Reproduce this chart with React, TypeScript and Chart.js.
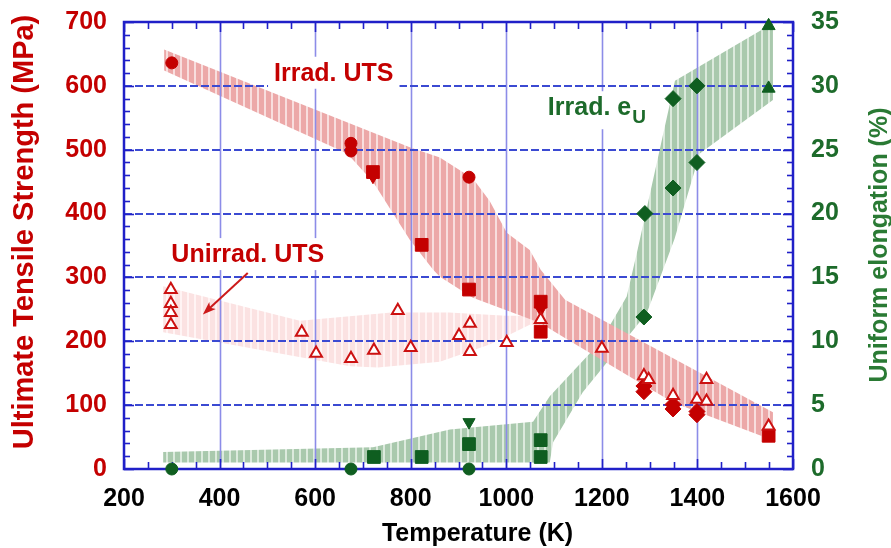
import { useEffect, useRef } from "react";
import { Chart, registerables } from "chart.js";

Chart.register(...registerables);

const FONT = "'Liberation Sans', Arial, Helvetica, sans-serif";
const RED = "#c40000";
const GREEN = "#0f5e20";
const GREEN_TEXT = "#1d6b2b";

// Axis ticks
const tempTicks = [200, 400, 600, 800, 1000, 1200, 1400, 1600];
const utsTicks = [0, 100, 200, 300, 400, 500, 600, 700];
const elongTicks = [0, 5, 10, 15, 20, 25, 30, 35];

// Irradiated UTS (MPa) vs temperature (K)
const irrUtsCircleT = [300, 675, 675, 922];
const irrUtsCircleV = [636, 510, 498, 457];
const irrUtsSquareT = [721, 823, 922, 1072, 1072, 1549];
const irrUtsSquareV = [465, 351, 281, 262, 215, 52];
const irrUtsDownT = [721, 1072];
const irrUtsDownV = [457, 249];
const irrUtsDiamondT = [1288, 1288, 1349, 1349, 1399, 1399];
const irrUtsDiamondV = [130, 121, 101, 94, 90, 85];

// Unirradiated UTS (MPa)
const unirrUtsT = [298, 298, 298, 298, 572, 602, 675, 723, 773, 800, 901, 924, 924, 1001, 1072, 1200, 1288, 1298, 1349, 1399, 1419, 1419, 1549];
const unirrUtsV = [281, 259, 245, 226, 214, 181, 173, 186, 248, 190, 209, 228, 184, 198, 234, 189, 146, 140, 115, 109, 140, 106, 67];

// Irradiated uniform elongation (%)
const elongCircleT = [300, 675, 922];
const elongCircleV = [0, 0, 0];
const elongSquareT = [723, 823, 922, 1072, 1072];
const elongSquareV = [0.94, 0.94, 1.95, 2.26, 0.94];
const elongDownT = [922];
const elongDownV = [3.67];
const elongDiamondT = [1288, 1290, 1349, 1349, 1399, 1399];
const elongDiamondV = [11.9, 20.0, 22.0, 29.0, 24.0, 30.0];
const elongTriT = [1549, 1549];
const elongTriV = [34.7, 29.8];

// Scatter bands, outlined as closed polygons
const irrUtsBandT = [284, 798, 861, 930, 965, 1001, 1049, 1072, 1123, 1558, 1558, 1349, 1127, 1070, 930, 861, 847, 798, 721, 667, 284];
const irrUtsBandV = [657, 504, 488, 455, 420, 370, 343, 312, 265, 89, 45, 104, 203, 229, 268, 301, 312, 359, 450, 494, 624];
const unirrUtsBandT = [282, 568, 637, 760, 880, 1000, 1070, 1070, 1049, 965, 861, 731, 673, 282];
const unirrUtsBandV = [286, 232, 237, 245, 245, 240, 240, 225, 226, 195, 168, 159, 161, 214];
const elongBandT = [282, 721, 882, 1056, 1091, 1196, 1252, 1275, 1353, 1558, 1558, 1405, 1352, 1294, 1160, 1098, 1091, 282];
const elongBandV = [1.33, 1.7, 3.1, 3.7, 5.7, 9.9, 13.5, 17.2, 30.4, 34.9, 28.9, 24.7, 18.0, 12.2, 6.0, 2.1, 0.5, 0.5];

// Annotation anchors (temperature, MPa)
const irrUtsNote = { t: 639, v: 608, text: "Irrad. UTS" };
const unirrUtsNote = { t: 459, v: 324, text: "Unirrad. UTS" };
const elongNote = { t: 1087, v: 554, text: "Irrad. e", sub: "U" };
const arrowFrom = { t: 459, v: 307 };
const arrowTo = { t: 365, v: 242 };

const zip = (xs: number[], ys: number[]) => xs.map((x, i) => ({ x, y: ys[i] }));

function stripes(base: string, gap: string): CanvasPattern | string {
  const c = document.createElement("canvas");
  c.width = 7;
  c.height = 4;
  const g = c.getContext("2d");
  if (!g) return base;
  g.fillStyle = base;
  g.fillRect(0, 0, 7, 4);
  g.fillStyle = gap;
  g.fillRect(5, 0, 2, 4);
  return g.createPattern(c, "repeat") || base;
}

const decor = {
  id: "decor",
  beforeDatasetsDraw(chart: any) {
    const { ctx, chartArea: a, scales } = chart;
    const x = scales.x;
    const y = scales.y;
    const y2 = scales.y2;
    const seg = (x1: number, y1: number, x2: number, y2p: number) => {
      ctx.beginPath();
      ctx.moveTo(x1, y1);
      ctx.lineTo(x2, y2p);
      ctx.stroke();
    };
    ctx.save();

    // grid: solid verticals, dashed horizontals
    ctx.strokeStyle = "#8c8ce8";
    ctx.lineWidth = 1.6;
    tempTicks.slice(1, -1).forEach((t) => {
      const p = Math.round(x.getPixelForValue(t)) + 0.5;
      seg(p, a.top, p, a.bottom);
    });
    ctx.strokeStyle = "#3b4ad2";
    ctx.lineWidth = 2;
    ctx.setLineDash([8, 3]);
    utsTicks.slice(1, -1).forEach((v) => {
      const p = Math.round(y.getPixelForValue(v));
      seg(a.left, p, a.right, p);
    });
    ctx.setLineDash([]);

    // notes on white backing
    const note = (n: any, color: string) => {
      ctx.font = `bold 25px ${FONT}`;
      const w = ctx.measureText(n.text).width;
      let sw = 0;
      if (n.sub) {
        ctx.font = `bold 19px ${FONT}`;
        sw = ctx.measureText(n.sub).width + 1;
      }
      const cx = x.getPixelForValue(n.t);
      const by = y.getPixelForValue(n.v);
      const left = n.sub ? cx : cx - w / 2;
      ctx.fillStyle = "#ffffff";
      ctx.fillRect(left - 6, by - 24, w + sw + 12, n.sub ? 38 : 32);
      ctx.fillStyle = color;
      ctx.textBaseline = "alphabetic";
      ctx.textAlign = "left";
      ctx.font = `bold 25px ${FONT}`;
      ctx.fillText(n.text, left, by);
      if (n.sub) {
        ctx.font = `bold 19px ${FONT}`;
        ctx.fillText(n.sub, left + w + 1, by + 8);
      }
    };
    note(irrUtsNote, RED);
    note(unirrUtsNote, RED);
    note(elongNote, GREEN_TEXT);

    // arrow pointing at the unirradiated band
    const ax1 = x.getPixelForValue(arrowFrom.t);
    const ay1 = y.getPixelForValue(arrowFrom.v);
    const ax2 = x.getPixelForValue(arrowTo.t);
    const ay2 = y.getPixelForValue(arrowTo.v);
    const ang = Math.atan2(ay2 - ay1, ax2 - ax1);
    ctx.strokeStyle = "#cc1a1a";
    ctx.fillStyle = "#cc1a1a";
    ctx.lineWidth = 2;
    seg(ax1, ay1, ax2 - 8 * Math.cos(ang), ay2 - 8 * Math.sin(ang));
    ctx.beginPath();
    ctx.moveTo(ax2, ay2);
    ctx.lineTo(ax2 - 14 * Math.cos(ang - 0.35), ay2 - 14 * Math.sin(ang - 0.35));
    ctx.lineTo(ax2 - 10 * Math.cos(ang), ay2 - 10 * Math.sin(ang));
    ctx.lineTo(ax2 - 14 * Math.cos(ang + 0.35), ay2 - 14 * Math.sin(ang + 0.35));
    ctx.closePath();
    ctx.fill();

    // inward tick marks
    ctx.strokeStyle = "#2020c8";
    ctx.lineWidth = 1.6;
    for (let v = 0; v <= 700; v += 20) {
      const p = Math.round(y.getPixelForValue(v)) + 0.5;
      seg(a.left, p, a.left + (v % 100 === 0 ? 10 : 6), p);
    }
    for (let v = 0; v <= 35; v += 1) {
      const p = Math.round(y2.getPixelForValue(v)) + 0.5;
      seg(a.right, p, a.right - (v % 5 === 0 ? 10 : 6), p);
    }
    for (let t = 200; t <= 1600; t += 50) {
      const p = Math.round(x.getPixelForValue(t)) + 0.5;
      const len = t % 200 === 0 ? 10 : 7;
      seg(p, a.bottom, p, a.bottom - len);
      seg(p, a.top, p, a.top + len);
    }

    // frame
    ctx.lineWidth = 2.5;
    ctx.strokeRect(a.left, a.top, a.right - a.left, a.bottom - a.top);
    ctx.restore();
  },
  afterDraw(chart: any) {
    const { ctx, chartArea: a } = chart;
    ctx.save();
    ctx.textBaseline = "alphabetic";
    ctx.textAlign = "center";

    ctx.fillStyle = RED;
    ctx.font = `bold 29px ${FONT}`;
    ctx.save();
    ctx.translate(33, 232);
    ctx.rotate(-Math.PI / 2);
    ctx.fillText("Ultimate Tensile Strength (MPa)", 0, 0);
    ctx.restore();

    ctx.fillStyle = "#2a7a34";
    ctx.font = `bold 25px ${FONT}`;
    ctx.save();
    ctx.translate(887, 245);
    ctx.rotate(-Math.PI / 2);
    ctx.fillText("Uniform elongation (%)", 0, 0);
    ctx.restore();

    ctx.fillStyle = "#000000";
    ctx.font = `bold 25px ${FONT}`;
    ctx.fillText("Temperature (K)", (a.left + a.right) / 2 + 19, 541);
    ctx.restore();
  },
};

// fixed box sizes so the plot area lands at the same place every time
const fixWidth = (w: number) => (s: any) => {
  s.width = w;
  s.paddingTop = 0;
  s.paddingBottom = 0;
};
const fixHeight = (h: number) => (s: any) => {
  s.height = h;
  s.paddingLeft = 0;
  s.paddingRight = 0;
};

export default function App() {
  const ref = useRef<HTMLCanvasElement>(null);

  useEffect(() => {
    if (!ref.current) return;
    const band = (t: number[], v: number[], fillStyle: any, axis: string) => ({
      type: "line" as const,
      data: zip(t, v),
      yAxisID: axis,
      fill: "shape",
      backgroundColor: fillStyle,
      borderColor: "transparent",
      borderWidth: 0,
      pointRadius: 0,
      tension: 0,
      order: 10,
    });
    const mark = (
      t: number[],
      v: number[],
      style: string,
      r: number,
      color: string,
      axis: string,
      extra: any = {}
    ) => ({
      type: "scatter" as const,
      data: zip(t, v),
      yAxisID: axis,
      pointStyle: style,
      pointRadius: r,
      backgroundColor: color,
      borderColor: color,
      borderWidth: 1,
      clip: false,
      order: 0,
      ...extra,
    });
    const tickFont = { family: FONT, size: 25, weight: "bold" };

    const chart = new Chart(ref.current, {
      type: "scatter",
      data: {
        datasets: [
          band(irrUtsBandT, irrUtsBandV, stripes("#eca8a8", "#f8dede"), "y"),
          band(unirrUtsBandT, unirrUtsBandV, stripes("#fbe2e2", "#fff4f4"), "y"),
          band(elongBandT, elongBandV, stripes("#a9c9ad", "#dceadd"), "y2"),
          mark(unirrUtsT, unirrUtsV, "triangle", 6.8, "#ffffff", "y", { borderColor: "#cc1111", borderWidth: 2 }),
          mark(irrUtsDownT, irrUtsDownV, "triangle", 6.5, RED, "y", { rotation: 180 }),
          mark(irrUtsCircleT, irrUtsCircleV, "circle", 6, RED, "y"),
          mark(irrUtsSquareT, irrUtsSquareV, "rect", 9, RED, "y"),
          mark(irrUtsDiamondT, irrUtsDiamondV, "rectRot", 8, RED, "y"),
          mark(elongCircleT, elongCircleV, "circle", 6, GREEN, "y2"),
          mark(elongSquareT, elongSquareV, "rect", 9, GREEN, "y2"),
          mark(elongDownT, elongDownV, "triangle", 7, GREEN, "y2", { rotation: 180 }),
          mark(elongDiamondT, elongDiamondV, "rectRot", 8, GREEN, "y2"),
          mark(elongTriT, elongTriV, "triangle", 7.5, GREEN, "y2"),
        ] as any,
      },
      options: {
        responsive: false,
        animation: false,
        events: [],
        layout: { padding: { top: 22, left: 0, right: 0, bottom: 0 } },
        plugins: {
          legend: { display: false },
          tooltip: { enabled: false },
          filler: { drawTime: "beforeDatasetsDraw" },
        } as any,
        scales: {
          x: {
            type: "linear",
            position: "bottom",
            min: 200,
            max: 1600,
            afterBuildTicks: (s: any) => {
              s.ticks = tempTicks.map((value) => ({ value }));
            },
            grid: { display: false, drawTicks: false },
            border: { display: false },
            ticks: { padding: 15, color: "#000000", font: tickFont, callback: (v: any) => String(v) },
            afterFit: fixHeight(79),
          },
          y: {
            type: "linear",
            position: "left",
            min: 0,
            max: 700,
            afterBuildTicks: (s: any) => {
              s.ticks = utsTicks.map((value) => ({ value }));
            },
            grid: { display: false, drawTicks: false },
            border: { display: false },
            ticks: { padding: 17, color: RED, font: tickFont, callback: (v: any) => String(v) },
            afterFit: fixWidth(124),
          },
          y2: {
            type: "linear",
            position: "right",
            min: 0,
            max: 35,
            afterBuildTicks: (s: any) => {
              s.ticks = elongTicks.map((value) => ({ value }));
            },
            grid: { display: false, drawTicks: false },
            border: { display: false },
            ticks: { padding: 18, color: GREEN_TEXT, font: tickFont, callback: (v: any) => String(v) },
            afterFit: fixWidth(98),
          },
        } as any,
      },
      plugins: [decor],
    });
    return () => chart.destroy();
  }, []);

  return (
    <div style={{ position: "absolute", left: 0, top: 0, width: 891, height: 548, background: "#ffffff" }}>
      <canvas ref={ref} width={891} height={548} style={{ width: 891, height: 548, display: "block" }} />
    </div>
  );
}
